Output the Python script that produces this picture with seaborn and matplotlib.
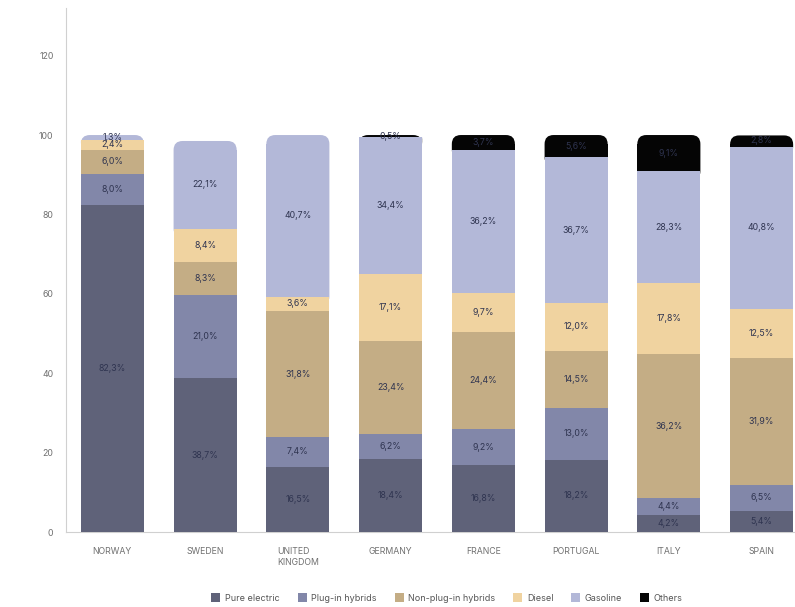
import matplotlib
matplotlib.use("Agg")
import matplotlib.pyplot as plt
from matplotlib.patches import FancyBboxPatch, Patch
import numpy as np
import seaborn as sns

countries = ["NORWAY", "SWEDEN", "UNITED\nKINGDOM", "GERMANY", "FRANCE", "PORTUGAL", "ITALY", "SPAIN"]
fuel_types = ["Pure electric", "Plug-in hybrids", "Non-plug-in hybrids", "Diesel", "Gasoline", "Others"]

pure_electric = [82.3, 38.7, 16.5, 18.4, 16.8, 18.2, 4.2, 5.4]
plug_in_hybrids = [8.0, 21.0, 7.4, 6.2, 9.2, 13.0, 4.4, 6.5]
non_plug_in_hybrids = [6.0, 8.3, 31.8, 23.4, 24.4, 14.5, 36.2, 31.9]
diesel = [2.4, 8.4, 3.6, 17.1, 9.7, 12.0, 17.8, 12.5]
gasoline = [1.3, 22.1, 40.7, 34.4, 36.2, 36.7, 28.3, 40.8]
others = [0.0, 0.0, 0.0, 0.5, 3.7, 5.6, 9.1, 2.8]

y_ticks = [0, 20, 40, 60, 80, 100, 120]

colors = ["#5f6279", "#8287a9", "#c4ad85", "#f0d3a0", "#b3b8d8", "#050505"]

series = [pure_electric, plug_in_hybrids, non_plug_in_hybrids, diesel, gasoline, others]
values = np.array(series)
cum = np.cumsum(values, axis=0)
bottoms = cum - values

sns.set_theme(style="white")
plt.rcParams["font.family"] = ["Inter", "DejaVu Sans"]

fig = plt.figure(figsize=(7.95, 6.07), dpi=100)
ax = fig.add_axes([66 / 795, 75 / 607, 1 - 66 / 795, (532 - 8) / 607])

bar_w = 0.68
n = len(countries)
# topmost non-zero segment of each stack gets rounded corners
top_idx = [max(k for k in range(len(series)) if values[k, i] > 0) for i in range(n)]

# px-per-unit ratio so the rounding looks circular on screen
x_px = (795 - 66) / 7.86
y_px = (532 - 8) / 132.0
aspect = x_px / y_px
radius = 9 / x_px
r_y = radius * aspect

for k in range(len(series)):
    before = len(ax.patches)
    sns.barplot(x=countries, y=values[k], bottom=bottoms[k], color=colors[k],
                saturation=1, width=bar_w, linewidth=0, ax=ax, zorder=3)
    new = ax.patches[before:]
    for i, p in enumerate(new):
        if values[k, i] <= 0:
            p.set_visible(False)
            continue
        if top_idx[i] == k:
            x0, y0, w, h = p.get_x(), p.get_y(), p.get_width(), p.get_height()
            # rounded cap, extended below the segment and tucked under the one beneath
            rp = FancyBboxPatch((x0, y0 - r_y), w, h + r_y,
                                boxstyle=f"round,pad=0,rounding_size={radius}",
                                mutation_aspect=aspect, facecolor=colors[k],
                                edgecolor="none", linewidth=0, zorder=2)
            ax.add_patch(rp)
            p.set_height(max(h - r_y, 0))

# value labels at each segment's centre
for k in range(len(series)):
    for i in range(n):
        v = values[k, i]
        if v <= 0:
            continue
        yc = cum[k, i] - v / 2
        ax.text(i, yc, f"{v:.1f}%".replace(".", ","), ha="center", va="center",
                fontsize=6.3, color="#2f3450", zorder=20)

ax.set_ylim(0, 132)
ax.set_xlim(-0.5, 7.36)
ax.set_yticks(y_ticks)
ax.set_yticklabels([str(t) for t in y_ticks], fontsize=6.3, color="#707070")
ax.set_xticks(range(n))
ax.set_xticklabels(countries, fontsize=6.3, color="#707070", multialignment="left")
ax.tick_params(axis="both", length=3, width=0.6, color="#c8c8c8", pad=6)
ax.tick_params(axis="x", pad=8)
ax.set_xlabel("")
ax.set_ylabel("")
for s in ["top", "right"]:
    ax.spines[s].set_visible(False)
for s in ["left", "bottom"]:
    ax.spines[s].set_color("#d0d0d0")
    ax.spines[s].set_linewidth(0.8)
ax.grid(False)

handles = [Patch(facecolor=c, edgecolor="none", label=l) for c, l in zip(colors, fuel_types)]
fig.legend(handles=handles, loc="center", bbox_to_anchor=(447 / 795, 9 / 607), ncol=6,
           frameon=False, fontsize=6.5, labelcolor="#555555", handlelength=1.0,
           handleheight=1.0, handletextpad=0.5, columnspacing=2.0)

fig.text(410 / 795, 1 + 6 / 607, "New car registrations by fuel type in Europe, 2023",
         ha="center", va="baseline", fontsize=13, fontweight="bold", color="#1a1a2a")

fig.savefig("out.png", dpi=100)
